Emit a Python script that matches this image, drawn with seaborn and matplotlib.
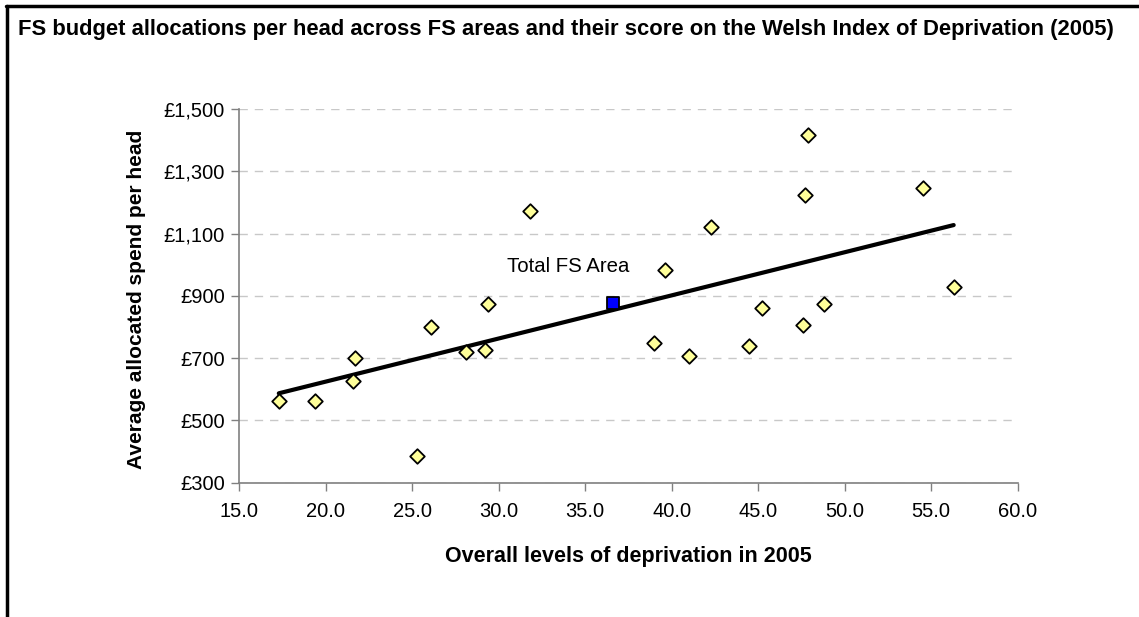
import matplotlib
matplotlib.use("Agg")
import matplotlib.pyplot as plt
import seaborn as sns
import numpy as np
import pandas as pd
from matplotlib.lines import Line2D
from matplotlib.ticker import FuncFormatter

# Data: deprivation score (x) and allocated spend per head (y) for FS areas
deprivation = [17.3, 19.4, 21.6, 21.7, 25.3, 26.1, 28.1, 29.2, 29.4, 31.8,
               39.0, 39.6, 41.0, 42.3, 44.5, 45.2, 47.6, 47.7, 47.9, 48.8,
               54.5, 56.3]
spend = [562, 562, 628, 702, 386, 800, 719, 726, 873, 1171,
         750, 983, 708, 1122, 740, 861, 805, 1225, 1416, 873,
         1245, 927]
total_label = "Total FS Area"
total_x = 36.6
total_y = 876

x_ticks = [15, 20, 25, 30, 35, 40, 45, 50, 55, 60]
y_ticks = [300, 500, 700, 900, 1100, 1300, 1500]

title = ("FS budget allocations per head across FS areas and their score on the "
         "Welsh Index of Deprivation (2005)")
x_label = "Overall levels of deprivation in 2005"
y_label = "Average allocated spend per head"

df = pd.DataFrame({"deprivation": deprivation, "spend": spend})
df_total = pd.DataFrame({"deprivation": [total_x], "spend": [total_y]})

sns.set_style("white")
plt.rcParams["font.family"] = ["Liberation Sans", "DejaVu Sans"]
plt.rcParams["text.color"] = "black"
plt.rcParams["axes.labelcolor"] = "black"
plt.rcParams["xtick.color"] = "black"
plt.rcParams["ytick.color"] = "black"

fig = plt.figure(figsize=(11.39, 6.17), dpi=100)
ax = fig.add_axes([239 / 1139, 1 - 482.7 / 617, (1017.7 - 239) / 1139, (482.7 - 109) / 617])

# Trend line (least-squares fit)
sns.regplot(data=df, x="deprivation", y="spend", ax=ax, ci=None, scatter=False,
            truncate=True, line_kws=dict(color="black", lw=3, zorder=3))

# Area points
sns.scatterplot(data=df, x="deprivation", y="spend", ax=ax, marker="D", s=55,
                color="#FFFF99", edgecolor="black", linewidth=1.3, zorder=4)
# Total
sns.scatterplot(data=df_total, x="deprivation", y="spend", ax=ax, marker="s", s=75,
                color="#0000FF", edgecolor="black", linewidth=1.3, zorder=5)
ax.annotate(total_label, xy=(total_x, total_y), xytext=(-106, 37),
            textcoords="offset pixels", ha="left", va="center", fontsize=14.7,
            color="black")

ax.set_xlim(15, 60)
ax.set_ylim(300, 1500)
ax.set_xticks(x_ticks)
ax.set_yticks(y_ticks)
ax.xaxis.set_major_formatter(FuncFormatter(lambda v, p: f"{v:.1f}"))
ax.yaxis.set_major_formatter(FuncFormatter(lambda v, p: f"£{int(v):,}"))
ax.tick_params(axis="both", which="major", labelsize=14.5, direction="out",
               length=6, width=1, color="#808080", labelcolor="black",
               bottom=True, left=True)
ax.tick_params(axis="x", pad=8)
ax.tick_params(axis="y", pad=4)

ax.grid(axis="y", color="#C8C8C8", linestyle=(0, (6, 5)), linewidth=1)
ax.grid(axis="x", visible=False)
ax.set_axisbelow(True)
for side in ["top", "right"]:
    ax.spines[side].set_visible(False)
for side in ["left", "bottom"]:
    ax.spines[side].set_color("#808080")
    ax.spines[side].set_linewidth(1.2)

ax.set_xlabel(x_label, fontsize=15.5, fontweight="bold", labelpad=18)
ax.set_ylabel(y_label, fontsize=15, fontweight="bold")
ax.yaxis.set_label_coords(-0.12, 0.49)

fig.text(18 / 1139, 1 - 29 / 617, title, fontsize=15.8, fontweight="bold",
         ha="left", va="center")

# Frame lines (top and left)
fig.add_artist(Line2D([6 / 1139, 1], [1 - 6 / 617, 1 - 6 / 617], color="black", lw=2.5,
                      transform=fig.transFigure))
fig.add_artist(Line2D([7 / 1139, 7 / 1139], [0, 1 - 6 / 617], color="black", lw=2.5,
                      transform=fig.transFigure))

fig.savefig("out.png", dpi=100, facecolor="white")
